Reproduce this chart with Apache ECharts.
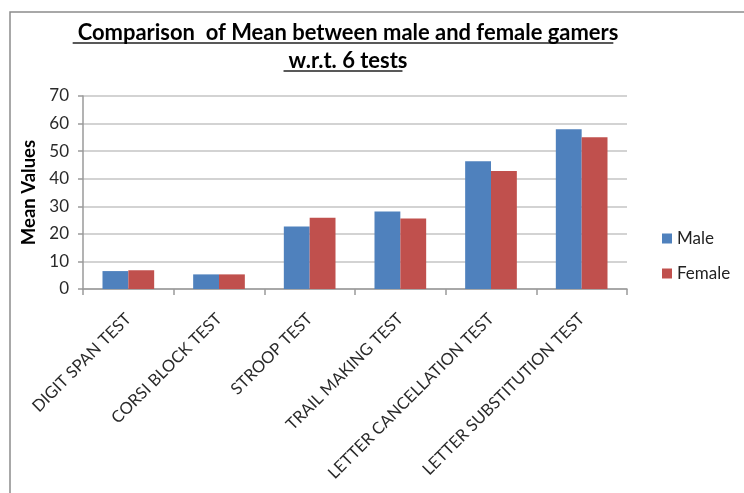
<!DOCTYPE html>
<html><head><meta charset="utf-8">
<script src="https://cdn.jsdelivr.net/npm/echarts@6/dist/echarts.min.js"></script>
<style>html,body{margin:0;padding:0;background:#fff}#c{width:744px;height:493px}</style>
</head><body><div id="c"></div>
<script>
const categories = ['DIGIT SPAN TEST','CORSI BLOCK TEST','STROOP TEST','TRAIL MAKING TEST','LETTER CANCELLATION TEST','LETTER SUBSTITUTION TEST'];
const maleValues = [6.5, 5.3, 22.7, 28.1, 46.3, 57.9];
const femaleValues = [6.8, 5.3, 25.8, 25.6, 42.8, 55.0];
const seriesNames = ['Male','Female'];
const titleLines = ['Comparison  of Mean between male and female gamers','w.r.t. 6 tests'];
const yAxisName = 'Mean Values';

const FONT = 'Lato, "Open Sans", sans-serif';
const TITLE_CX = 343;
const cv = document.createElement('canvas').getContext('2d');
function textW(t, size){ cv.font = 'bold ' + size + 'px ' + FONT; return cv.measureText(t).width; }
let tSize = 19 * 541 / textW(titleLines[0], 19);
tSize = Math.min(22, Math.max(17, tSize));
const w1 = textW(titleLines[0], tSize), w2 = textW(titleLines[1], tSize);

const chart = echarts.init(document.getElementById('c'), null, {renderer:'canvas'});
chart.setOption({
  animation:false,
  backgroundColor:'#fff',
  title:[
    {text:titleLines[0], left:TITLE_CX, textAlign:'center', top:17, textStyle:{fontFamily:FONT,fontWeight:'bold',fontSize:tSize,color:'#000'}},
    {text:titleLines[1], left:TITLE_CX, textAlign:'center', top:45, textStyle:{fontFamily:FONT,fontWeight:'bold',fontSize:tSize,color:'#000'}}
  ],
  graphic:[
    {type:'rect', shape:{x:10,y:12,width:800,height:600}, style:{fill:'none',stroke:'#8c8c8c',lineWidth:1.5}, silent:true},
    {type:'line', shape:{x1:TITLE_CX - w1/2,y1:43,x2:TITLE_CX + w1/2,y2:43}, style:{stroke:'#222',lineWidth:1.5}},
    {type:'line', shape:{x1:TITLE_CX - w2/2,y1:71,x2:TITLE_CX + w2/2,y2:71}, style:{stroke:'#222',lineWidth:1.5}}
  ],
  legend:{
    orient:'vertical', left:657, top:225, itemWidth:10, itemHeight:10, itemGap:18,
    icon:'rect',
    data:seriesNames,
    textStyle:{fontFamily:FONT,fontSize:17,color:'#222'}
  },
  grid:{left:83,right:117,top:96,bottom:204,containLabel:false},
  xAxis:{
    type:'category', data:categories, boundaryGap:true,
    axisLine:{lineStyle:{color:'#9a9a9a',width:1.5}},
    axisTick:{show:true,alignWithLabel:false,length:6,lineStyle:{color:'#9a9a9a',width:1.5}},
    axisLabel:{rotate:45,interval:0,fontFamily:FONT,fontSize:16.5,color:'#2a2a2a',margin:27}
  },
  yAxis:{
    type:'value', min:0, max:70, interval:10,
    name:yAxisName, nameLocation:'middle', nameGap:42, nameRotate:90,
    nameTextStyle:{fontFamily:FONT,fontWeight:'bold',fontSize:18.5,color:'#000'},
    axisLine:{show:true,lineStyle:{color:'#9a9a9a',width:1.5}},
    axisTick:{show:true,length:5,lineStyle:{color:'#9a9a9a',width:1.5}},
    axisLabel:{fontFamily:FONT,fontSize:17,color:'#2a2a2a',margin:14},
    splitLine:{lineStyle:{color:'#c4c4c4',width:1.5}}
  },
  series:[
    {name:seriesNames[0], type:'bar', data:maleValues, barGap:'0%', barCategoryGap:'43%', itemStyle:{color:'#4F81BD'}},
    {name:seriesNames[1], type:'bar', data:femaleValues, itemStyle:{color:'#C0504D'}}
  ]
});
</script></body></html>
